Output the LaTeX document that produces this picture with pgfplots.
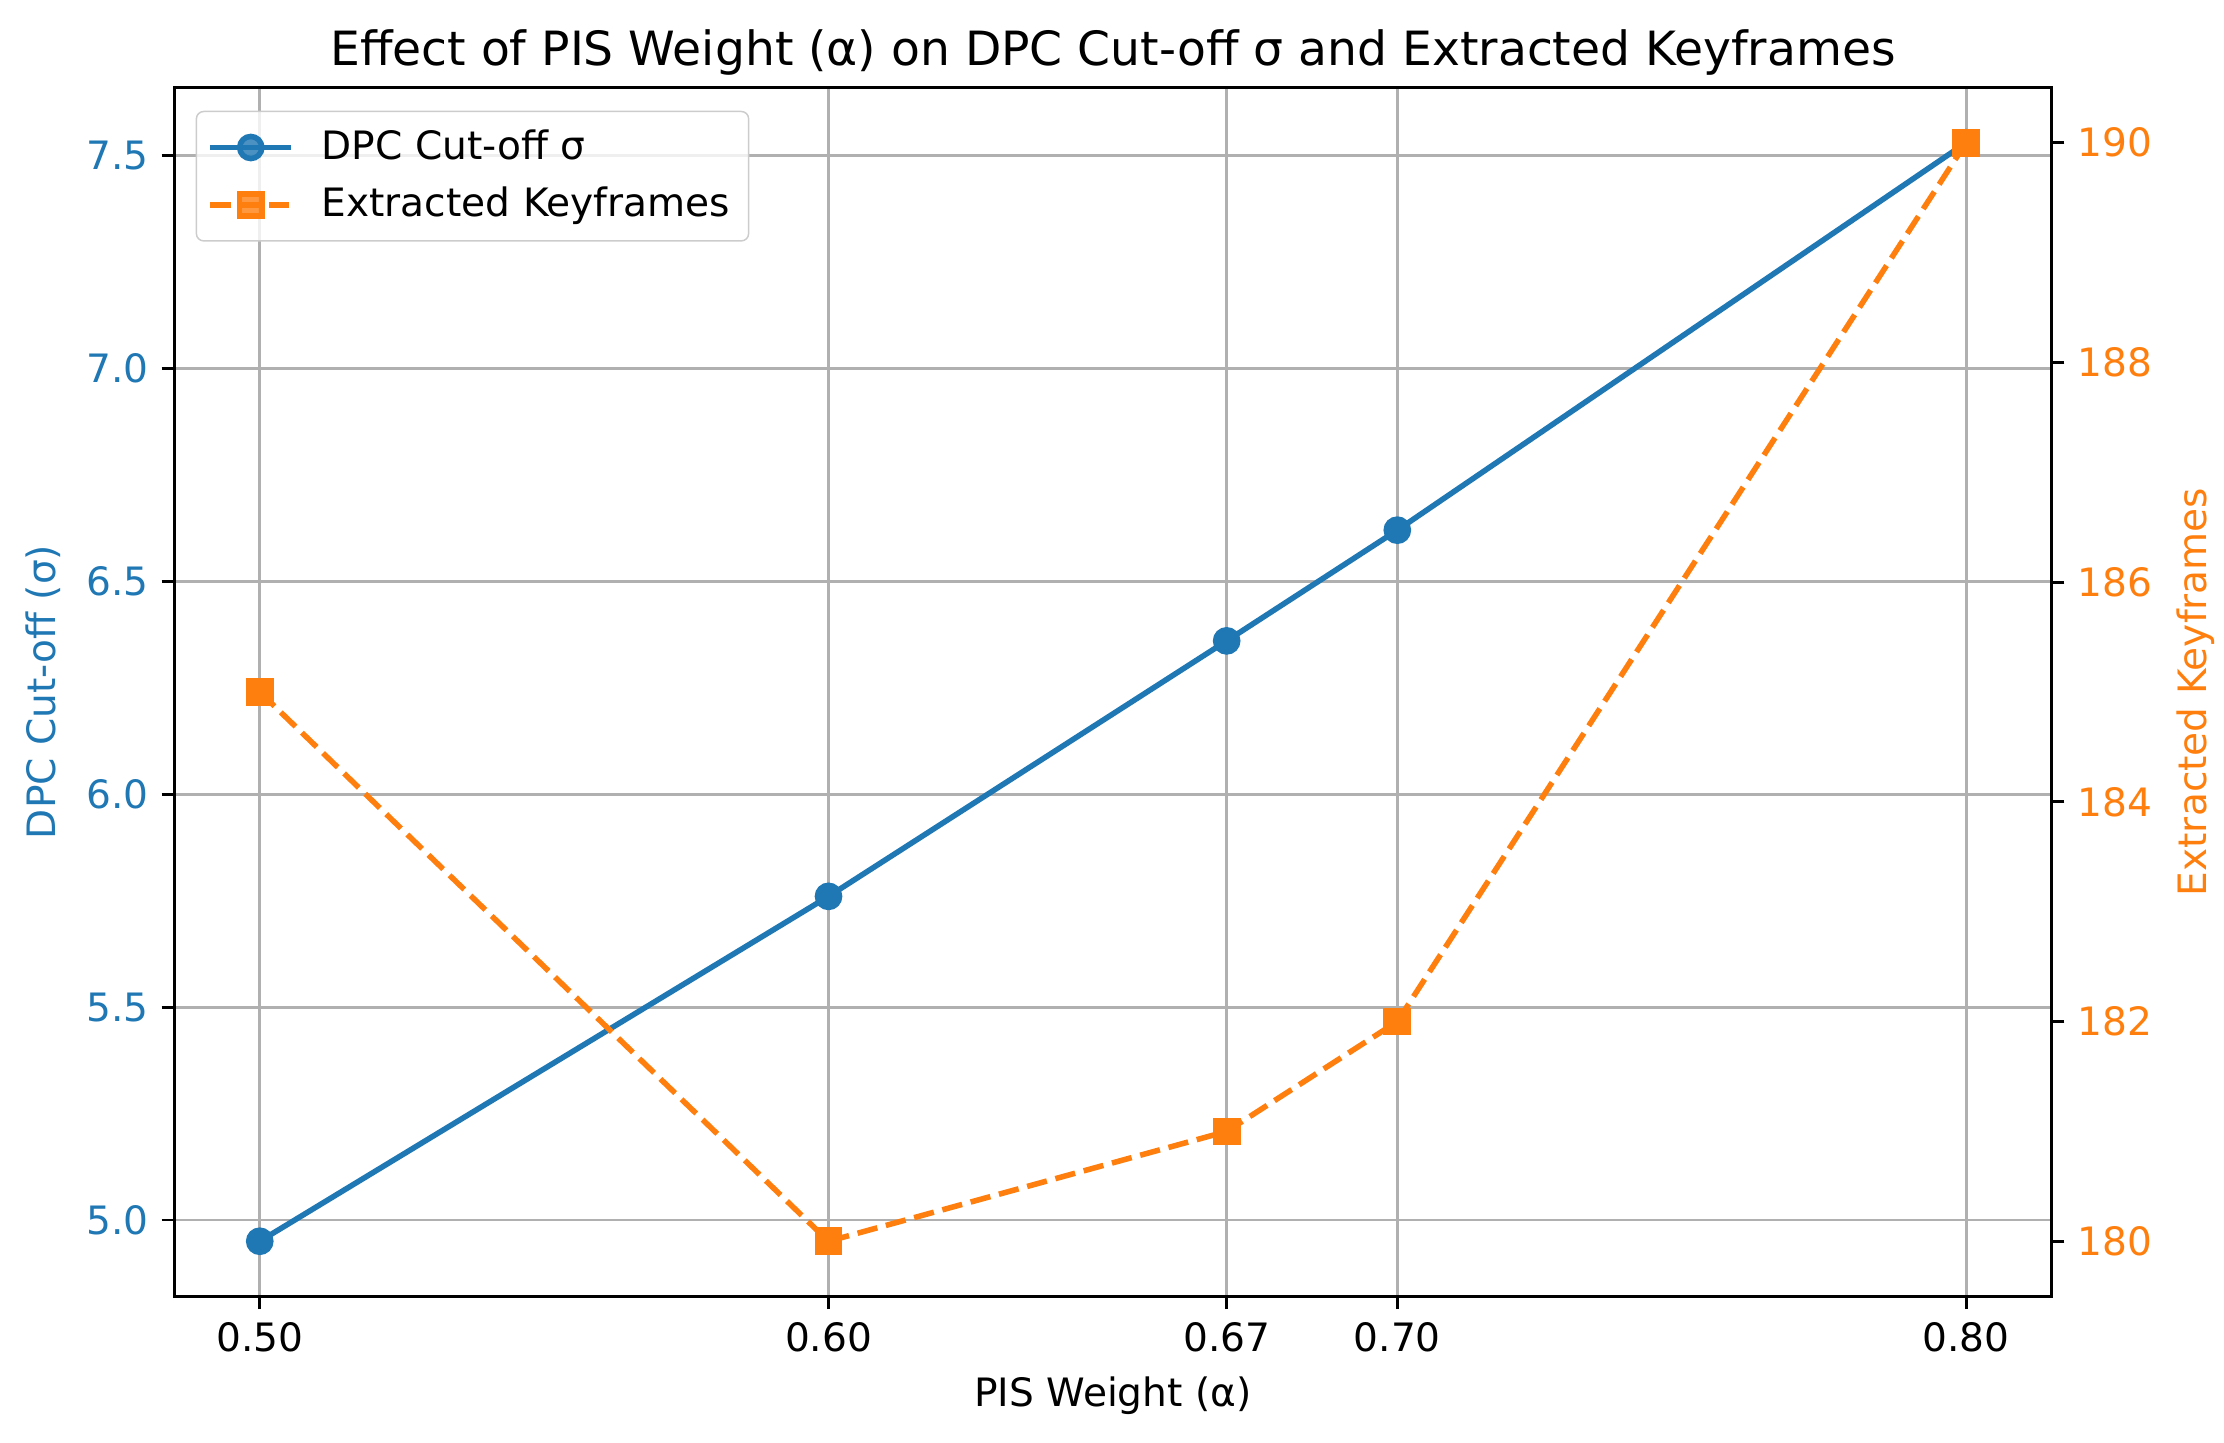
\documentclass[border=0pt]{standalone}
\usepackage{fontspec}
\setmainfont{DejaVu Sans}
\usepackage{pgfplots}
\pgfplotsset{compat=1.18}
\definecolor{mblue}{HTML}{1F77B4}
\definecolor{morange}{HTML}{FF7F0E}
\definecolor{mgrid}{HTML}{B0B0B0}
\definecolor{mleg}{HTML}{CCCCCC}
\begin{document}
\begin{tikzpicture}
\pgfplotsset{
  every axis/.append style={font=\fontsize{10.6}{12.7}\selectfont, /pgf/number format/assume math mode=true},
  myaxis/.style={
    at={(0,0)}, anchor=south west,
    scale only axis, width=509pt, height=327.7pt,
    xmin=0.485, xmax=0.815,
    tick align=outside, major tick length=3.5pt,
    every tick/.style={black, line width=0.8pt},
    axis line style={line width=0.8pt},
  }
}
\begin{axis}[
  myaxis,
  ymin=4.821, ymax=7.659,
  xtick={0.5,0.6,0.67,0.7,0.8},
  xticklabels={0.50,0.60,0.67,0.70,0.80},
  ytick={5,5.5,6,6.5,7,7.5},
  yticklabel style={color=mblue, /pgf/number format/.cd, fixed, fixed zerofill, precision=1},
  tick pos=left,
  grid=major, major grid style={mgrid, line width=0.8pt},
  xlabel={PIS Weight (α)},
  ylabel={DPC Cut-off (σ)}, ylabel style={color=mblue},
  title={Effect of PIS Weight (α) on DPC Cut-off σ and Extracted Keyframes},
  title style={font=\fontsize{12.8}{15}\selectfont, at={(0.5,1)}, anchor=base, yshift=0pt},
  legend style={at={(0.0113,0.981)}, anchor=north west, draw=mleg, rounded corners=2pt,
    fill=white, fill opacity=0.8, text opacity=1, font=\fontsize{10.6}{12.7}\selectfont,
    row sep=2pt, inner sep=3pt},
  legend cell align=left,
  legend image code/.code={\draw[mark repeat=2, mark phase=2, #1] plot coordinates {(0pt,0pt) (11pt,0pt) (22pt,0pt)};\path (27.5pt,0pt);},
]
\addplot[mblue, line width=1.5pt, mark=*, mark size=3pt, mark options={solid}] coordinates {
  (0.50,4.95) (0.60,5.76) (0.67,6.36) (0.70,6.62) (0.80,7.53)
};
\addlegendentry{DPC Cut-off σ}
\addlegendimage{morange, line width=1.5pt, dash pattern=on 5.55pt off 2.4pt, mark=square*, mark size=3pt, mark options={solid}}
\addlegendentry{Extracted Keyframes}
\end{axis}
\begin{axis}[
  myaxis,
  ymin=179.5, ymax=190.5,
  axis x line=none, axis y line*=right,
  ytick={180,182,184,186,188,190},
  yticklabel style={color=morange},
  ylabel={Extracted Keyframes}, ylabel style={color=morange},
]
\addplot[morange, line width=1.5pt, dash pattern=on 5.55pt off 2.4pt, mark=square*, mark size=3pt, mark options={solid}] coordinates {
  (0.50,185) (0.60,180) (0.67,181) (0.70,182) (0.80,190)
};
\end{axis}
\pgfresetboundingbox
\path[use as bounding box] (-47.3pt,-39.6pt) rectangle (555.8pt,351.5pt);
\end{tikzpicture}
\end{document}
